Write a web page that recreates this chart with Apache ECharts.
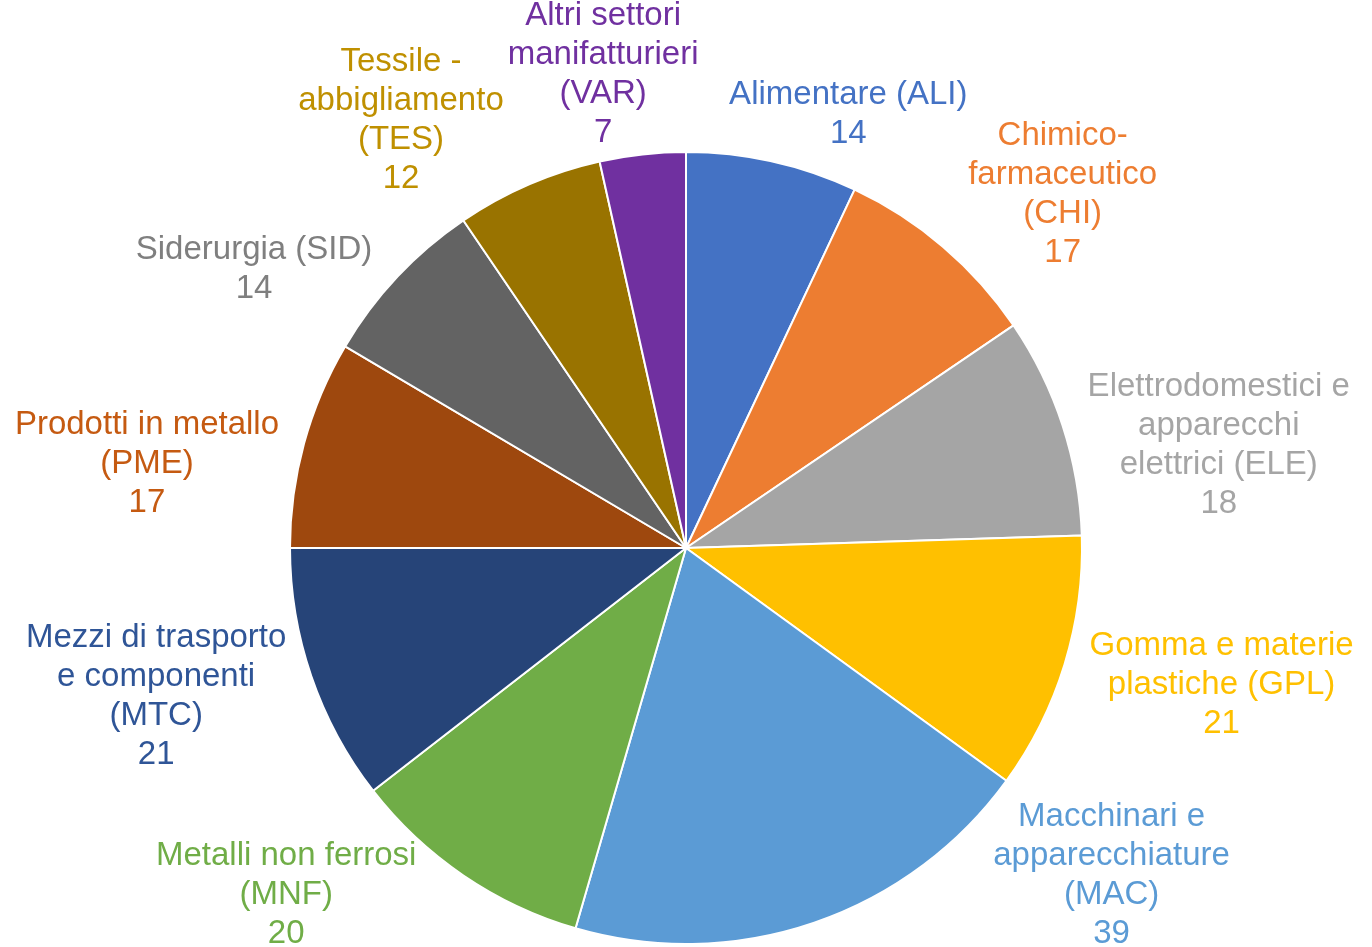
<!DOCTYPE html>
<html>
<head>
<meta charset="utf-8">
<script src="https://cdn.jsdelivr.net/npm/echarts@6/dist/echarts.min.js"></script>
<style>
  html, body { margin: 0; padding: 0; background: #fff; }
  #chart { width: 1372px; height: 947px; }
</style>
</head>
<body>
<div id="chart"></div>
<script>
// settori, in senso orario partendo dall'alto
const sectors = [
  'Alimentare (ALI)',
  'Chimico-\nfarmaceutico\n(CHI)',
  'Elettrodomestici e\napparecchi\nelettrici (ELE)',
  'Gomma e materie\nplastiche (GPL)',
  'Macchinari e\napparecchiature\n(MAC)',
  'Metalli non ferrosi\n(MNF)',
  'Mezzi di trasporto\ne componenti\n(MTC)',
  'Prodotti in metallo\n(PME)',
  'Siderurgia (SID)',
  'Tessile -\nabbigliamento\n(TES)',
  'Altri settori\nmanifatturieri\n(VAR)'
]
const counts = [14, 17, 18, 21, 39, 20, 21, 17, 14, 12, 7]
const sliceColors = ['#4472C4', '#ED7D31', '#A5A5A5', '#FFC000', '#5B9BD5', '#70AD47',
  '#264478', '#9E480E', '#636363', '#997300', '#7030A0']
const labelColors = ['#4472C4', '#ED7D31', '#A5A5A5', '#FFC000', '#5B9BD5', '#70AD47',
  '#2F5597', '#C55A11', '#7F7F7F', '#BF9000', '#7030A0']

const W = 1372, H = 947
const CX = 686, CY = 548, R = 396
const FONT_SIZE = 33, LINE_H = 39
const FONT = '"Liberation Sans", Arial, sans-serif'

// posizione delle etichette: fuori dalla torta, senza linee guida
const ctx = document.createElement('canvas').getContext('2d')
ctx.font = FONT_SIZE + 'px ' + FONT

function clampBox(b) {
  b.x = Math.min(Math.max(b.x, b.w / 2), W - b.w / 2)
  b.y = Math.min(Math.max(b.y, b.h / 2 - 6), H - b.h / 2 + 6)
}

function hitsPie(b) {
  const px = Math.min(Math.max(CX, b.x - b.w / 2), b.x + b.w / 2)
  const py = Math.min(Math.max(CY, b.y - b.h / 2), b.y + b.h / 2)
  return Math.hypot(px - CX, py - CY) < R - 2
}

function pushOut(b) {
  for (let k = 0; k < 400 && hitsPie(b); k++) {
    const oldY = b.y
    b.y += Math.sign(b.uy) * 2
    clampBox(b)
    if (b.y === oldY) {
      b.x += Math.sign(b.ux) * 2
      clampBox(b)
    }
  }
}

function separate(boxes) {
  for (let i = 0; i < boxes.length; i++) {
    for (let j = i + 1; j < boxes.length; j++) {
      const a = boxes[i], b = boxes[j]
      if (a.side && b.side) continue
      const pad = (!a.side && !b.side) ? 17 : 2
      const ox = (a.w + b.w) / 2 + 2 * pad - Math.abs(a.x - b.x)
      const oy = (a.h + b.h) / 2 - Math.abs(a.y - b.y)
      if (ox <= 0 || oy <= 0) continue
      const dir = Math.sign(a.x - b.x) || 1
      if (!a.side && !b.side) {
        a.x += dir * ox / 2
        b.x -= dir * ox / 2
      } else if (!a.side) {
        a.x += dir * ox
      } else {
        b.x -= dir * ox
      }
    }
  }
}

function layoutLabels() {
  const total = counts.reduce((s, v) => s + v, 0)
  let acc = 0
  const boxes = counts.map((v, i) => {
    const mid = (acc + v / 2) / total * Math.PI * 2
    acc += v
    const ux = Math.sin(mid), uy = -Math.cos(mid)
    const ax = CX + R * ux, ay = CY + R * uy
    const lines = (sectors[i] + '\n' + v).split('\n')
    const w = Math.max(...lines.map(l => ctx.measureText(l).width))
    const h = lines.length * LINE_H
    const side = Math.abs(ux) >= 0.3
    const b = { w, h, ux, uy, side }
    if (side) {
      b.x = ax + Math.sign(ux) * (25 + w / 2)
      b.y = ay + 20
    } else {
      b.x = ax
      b.y = ay + Math.sign(uy) * h / 2
    }
    return b
  })
  for (let round = 0; round < 3; round++) {
    boxes.forEach(clampBox)
    boxes.forEach(pushOut)
    for (let k = 0; k < 50; k++) separate(boxes)
  }
  boxes.forEach(pushOut)
  return boxes
}

const labelPos = layoutLabels()

const chart = echarts.init(document.getElementById('chart'))
chart.setOption({
  animation: false,
  backgroundColor: '#fff',
  series: [{
    type: 'pie',
    center: [CX, CY],
    radius: R,
    startAngle: 90,
    clockwise: true,
    avoidLabelOverlap: false,
    itemStyle: { borderColor: '#fff', borderWidth: 2 },
    label: {
      show: true,
      position: 'outside',
      formatter: '{b}\n{c}',
      fontFamily: FONT,
      fontSize: FONT_SIZE,
      lineHeight: LINE_H
    },
    labelLine: { show: false },
    labelLayout: (params) => {
      const p = labelPos[params.dataIndex]
      return { x: p.x, y: p.y, align: 'center', verticalAlign: 'middle' }
    },
    emphasis: { disabled: true },
    data: sectors.map((name, i) => ({
      name,
      value: counts[i],
      itemStyle: { color: sliceColors[i] },
      label: { color: labelColors[i] }
    }))
  }]
})
</script>
</body>
</html>
